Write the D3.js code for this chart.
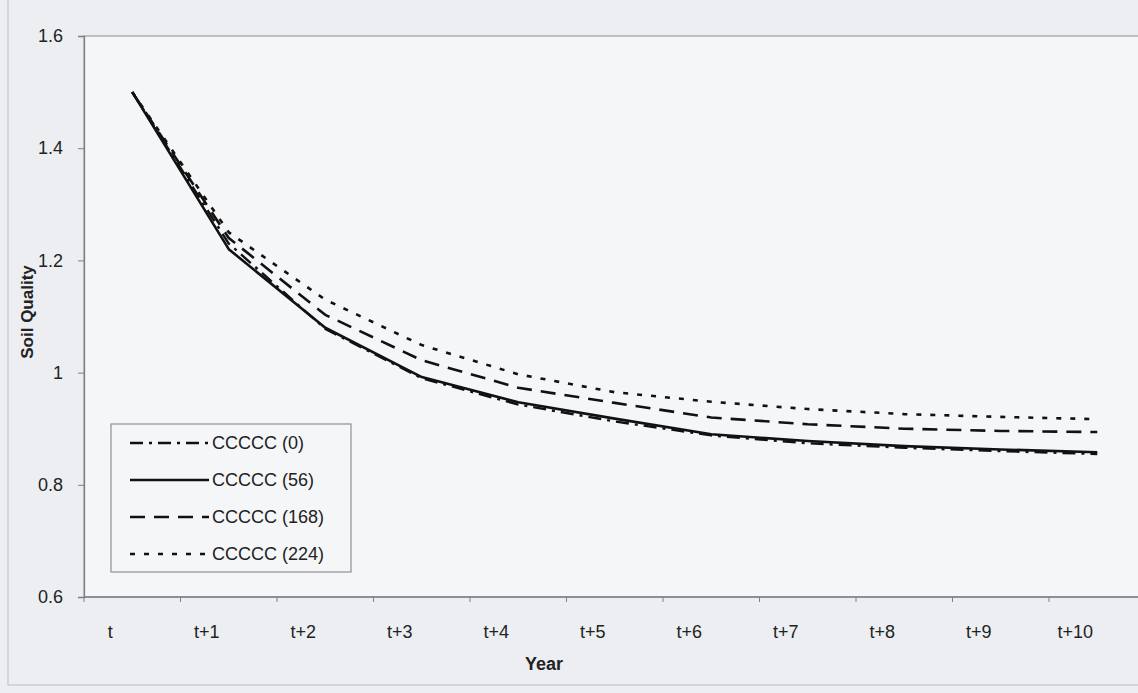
<!DOCTYPE html>
<html>
<head>
<meta charset="utf-8">
<script src="https://cdn.jsdelivr.net/npm/d3@7"></script>
<style>
  html, body { margin: 0; padding: 0; background: #eceef1; }
  svg { display: block; font-family: "Liberation Sans", Arial, sans-serif; }
</style>
</head>
<body>
<svg id="chart" width="1138" height="693"></svg>
<script>
const years = ["t", "t+1", "t+2", "t+3", "t+4", "t+5", "t+6", "t+7", "t+8", "t+9", "t+10"];
const yTicks = [0.6, 0.8, 1, 1.2, 1.4, 1.6];

const cc0 = [1.5, 1.23, 1.078, 0.99, 0.943, 0.913, 0.888, 0.874, 0.866, 0.86, 0.855];
const cc56 = [1.5, 1.22, 1.08, 0.992, 0.947, 0.918, 0.89, 0.878, 0.869, 0.863, 0.858];
const cc168 = [1.5, 1.24, 1.103, 1.022, 0.973, 0.946, 0.92, 0.908, 0.9, 0.896, 0.894];
const cc224 = [1.5, 1.25, 1.13, 1.049, 0.997, 0.965, 0.948, 0.935, 0.926, 0.921, 0.917];

const seriesNames = ["CCCCC (0)", "CCCCC (56)", "CCCCC (168)", "CCCCC (224)"];

const series = [
  { name: seriesNames[0], values: cc0, dash: "13,6,3,6", width: 2.4 },
  { name: seriesNames[1], values: cc56, dash: null, width: 2.6 },
  { name: seriesNames[2], values: cc168, dash: "15,9", width: 2.6 },
  { name: seriesNames[3], values: cc224, dash: "5,9", width: 2.6 },
];

const svg = d3.select("#chart");
const W = +svg.attr("width");
const H = +svg.attr("height");

const plot = { left: 84, top: 36, bottom: 597, step: 96.5 };
plot.right = plot.left + plot.step * years.length;

// outer chart frame
svg.append("rect")
  .attr("x", 8).attr("y", -2)
  .attr("width", W + 10).attr("height", H - 6)
  .attr("fill", "#eceef1")
  .attr("stroke", "#b8bcc2");

svg.append("rect")
  .attr("x", plot.left).attr("y", plot.top)
  .attr("width", plot.right - plot.left).attr("height", plot.bottom - plot.top)
  .attr("fill", "#f5f6f8")
  .attr("stroke", "#9a9da2")
  .attr("stroke-width", 1.2);

const x = d3.scaleBand().domain(years).range([plot.left, plot.right]).padding(0);
const y = d3.scaleLinear().domain([0.6, 1.6]).range([plot.bottom, plot.top]);

// y axis
const yAxis = svg.append("g")
  .attr("transform", `translate(${plot.left},0)`)
  .call(d3.axisLeft(y).tickValues(yTicks).tickSize(6).tickPadding(15)
    .tickFormat(d => d3.format("")(+d.toFixed(1))));
yAxis.select(".domain").attr("stroke", "#7d8085").attr("stroke-width", 1.3);
yAxis.selectAll(".tick line").attr("stroke", "#7d8085");
yAxis.selectAll(".tick text").attr("font-size", 18).attr("fill", "#222");

// x axis: ticks between categories, labels below
const xAxis = svg.append("g").attr("transform", `translate(0,${plot.bottom})`);
xAxis.append("line")
  .attr("x1", plot.left).attr("x2", plot.right)
  .attr("stroke", "#7d8085").attr("stroke-width", 1.3);
xAxis.selectAll(".xtick")
  .data(years.concat(["end"]))
  .enter()
  .append("line")
  .attr("x1", (d, i) => plot.left + i * x.step())
  .attr("x2", (d, i) => plot.left + i * x.step())
  .attr("y1", 0).attr("y2", 5)
  .attr("stroke", "#7d8085");
xAxis.selectAll(".xlabel")
  .data(years)
  .enter()
  .append("text")
  .attr("x", d => x(d) + x.bandwidth() / 2 - 22)
  .attr("y", 41)
  .attr("text-anchor", "middle")
  .attr("font-size", 18)
  .attr("fill", "#222")
  .text(d => d);

// axis titles
svg.append("text")
  .attr("x", 544).attr("y", 670)
  .attr("text-anchor", "middle")
  .attr("font-size", 18).attr("font-weight", "bold").attr("fill", "#222")
  .text("Year");

svg.append("text")
  .attr("transform", "translate(33,312) rotate(-90)")
  .attr("text-anchor", "middle")
  .attr("font-size", 17).attr("font-weight", "bold").attr("fill", "#222")
  .text("Soil Quality");

// lines
const line = d3.line()
  .x((d, i) => x(years[i]) + x.bandwidth() / 2)
  .y(d => y(d));

svg.append("g")
  .selectAll("path")
  .data(series)
  .enter()
  .append("path")
  .attr("d", d => line(d.values))
  .attr("fill", "none")
  .attr("stroke", "#111")
  .attr("stroke-width", d => d.width)
  .attr("stroke-dasharray", d => d.dash)
  .attr("stroke-linejoin", "round");

// legend
const legend = svg.append("g");
legend.append("rect")
  .attr("x", 111).attr("y", 424)
  .attr("width", 240).attr("height", 148)
  .attr("fill", "#f5f6f8")
  .attr("stroke", "#8e9196")
  .attr("stroke-width", 1.2);

const rows = legend.selectAll(".row")
  .data(series)
  .enter()
  .append("g")
  .attr("transform", (d, i) => `translate(0,${443 + i * 37})`);

rows.append("line")
  .attr("x1", 130).attr("x2", 209)
  .attr("stroke", "#111")
  .attr("stroke-width", d => d.width)
  .attr("stroke-dasharray", d => d.dash);

rows.append("text")
  .attr("x", 212).attr("y", 6)
  .attr("font-size", 18).attr("fill", "#222")
  .text(d => d.name);
</script>
</body>
</html>
